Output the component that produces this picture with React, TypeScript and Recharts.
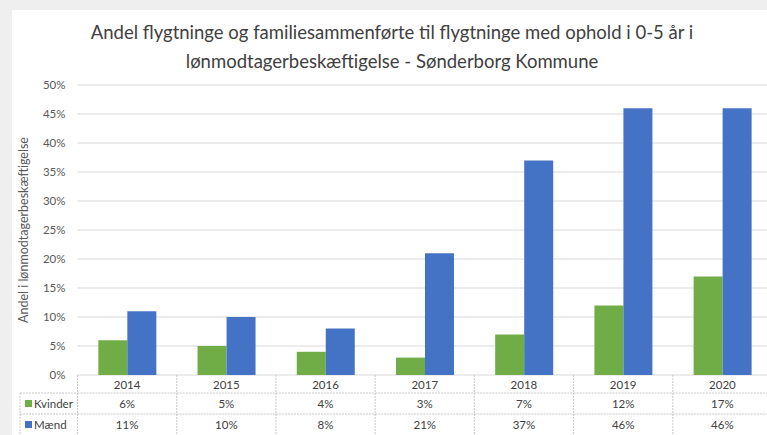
import { Bar, BarChart, CartesianGrid, XAxis, YAxis } from "recharts";

const years = ["2014", "2015", "2016", "2017", "2018", "2019", "2020"];
const kvinder = [6, 5, 4, 3, 7, 12, 17];
const maend = [11, 10, 8, 21, 37, 46, 46];
const yTicks = [0, 5, 10, 15, 20, 25, 30, 35, 40, 45, 50];

const titleLines = [
  "Andel flygtninge og familiesammenførte til flygtninge med ophold i 0-5 år i",
  "lønmodtagerbeskæftigelse - Sønderborg Kommune",
];
const yLabel = "Andel i lønmodtagerbeskæftigelse";

const GREEN = "#70ad47";
const BLUE = "#4472c4";
const FONT = "Lato, 'Open Sans', sans-serif";
const BORDER = "#c8c8c8";

const CHART_W = 760;
const CHART_H = 425;
const Y_AXIS_W = 65.5;
const BAND = (CHART_W - Y_AXIS_W) / years.length;

const data = years.map((year, i) => ({
  year,
  kvinder: kvinder[i],
  maend: maend[i],
}));

// draws one column of the data table under the bars
const TableTick = (props: any) => {
  const { x, y, payload } = props;
  const i = props.index ?? payload.index;
  const half = BAND / 2;
  const left = x - half - 57.5;
  const line = { stroke: BORDER, strokeWidth: 1, strokeDasharray: "2 1" };
  const txt = { fontFamily: FONT, fontSize: 11.5, fill: "#404040" };
  return (
    <g>
      <text x={x} y={y + 14} textAnchor="middle" {...txt}>
        {payload.value}
      </text>
      <text x={x} y={y + 33} textAnchor="middle" {...txt}>
        {kvinder[i]}%
      </text>
      <text x={x} y={y + 54} textAnchor="middle" {...txt}>
        {maend[i]}%
      </text>
      <line x1={x + half} x2={x + half} y1={y} y2={y + 60} {...line} />
      <line x1={x - half} x2={x + half} y1={y + 18} y2={y + 18} {...line} />
      <line x1={x - half} x2={x + half} y1={y + 39} y2={y + 39} {...line} />
      {i === 0 && (
        <g>
          <line x1={x - half} x2={x - half} y1={y} y2={y + 60} {...line} />
          <line x1={left} x2={x - half} y1={y + 18} y2={y + 18} {...line} />
          <line x1={left} x2={x - half} y1={y + 39} y2={y + 39} {...line} />
          <line x1={left} x2={left} y1={y + 18} y2={y + 60} {...line} />
          <rect x={left + 5} y={y + 25} width={7} height={7} fill={GREEN} />
          <text x={left + 14} y={y + 33} {...txt}>
            Kvinder
          </text>
          <rect x={left + 5} y={y + 46} width={7} height={7} fill={BLUE} />
          <text x={left + 14} y={y + 54} {...txt}>
            Mænd
          </text>
        </g>
      )}
    </g>
  );
};

const App = () => {
  return (
    <div
      style={{
        position: "fixed",
        left: 0,
        top: 0,
        width: 767,
        height: 435,
        overflow: "hidden",
        background: "#efefef",
      }}
    >
      <div
        style={{
          position: "absolute",
          left: 12,
          top: 10,
          width: 800,
          height: 430,
          background: "#fff",
        }}
      >
        <div
          style={{
            position: "absolute",
            left: 0,
            top: 8,
            width: CHART_W,
            textAlign: "center",
            fontFamily: FONT,
            fontSize: 18.5,
            lineHeight: "29px",
            color: "#404040",
          }}
        >
          {titleLines.map((t) => (
            <div key={t}>{t}</div>
          ))}
        </div>
        <div style={{ position: "absolute", left: 0, top: 0 }}>
          <BarChart
            width={CHART_W}
            height={CHART_H}
            data={data}
            margin={{ top: 75, right: 0, bottom: 0, left: 0 }}
            barCategoryGap="21%"
            barGap={0}
          >
            <CartesianGrid vertical={false} stroke="#d9d9d9" />
            <XAxis
              dataKey="year"
              height={60}
              axisLine={false}
              tickLine={false}
              tickSize={0}
              tickMargin={0}
              interval={0}
              tick={(p: any) => <TableTick {...p} />}
            />
            <YAxis
              width={Y_AXIS_W}
              domain={[0, 50]}
              ticks={yTicks}
              axisLine={false}
              tickLine={false}
              tickSize={0}
              tickMargin={12}
              tickFormatter={(v: number) => `${v}%`}
              tick={{ fontFamily: FONT, fontSize: 11.5, fill: "#595959" }}
              label={{
                value: yLabel,
                angle: -90,
                position: "insideLeft",
                offset: 12,
                style: {
                  textAnchor: "middle",
                  fontFamily: FONT,
                  fontSize: 12.5,
                  fill: "#595959",
                },
              }}
            />
            <Bar dataKey="kvinder" name="Kvinder" fill={GREEN} isAnimationActive={false} />
            <Bar dataKey="maend" name="Mænd" fill={BLUE} isAnimationActive={false} />
          </BarChart>
        </div>
      </div>
    </div>
  );
};

export default App;
